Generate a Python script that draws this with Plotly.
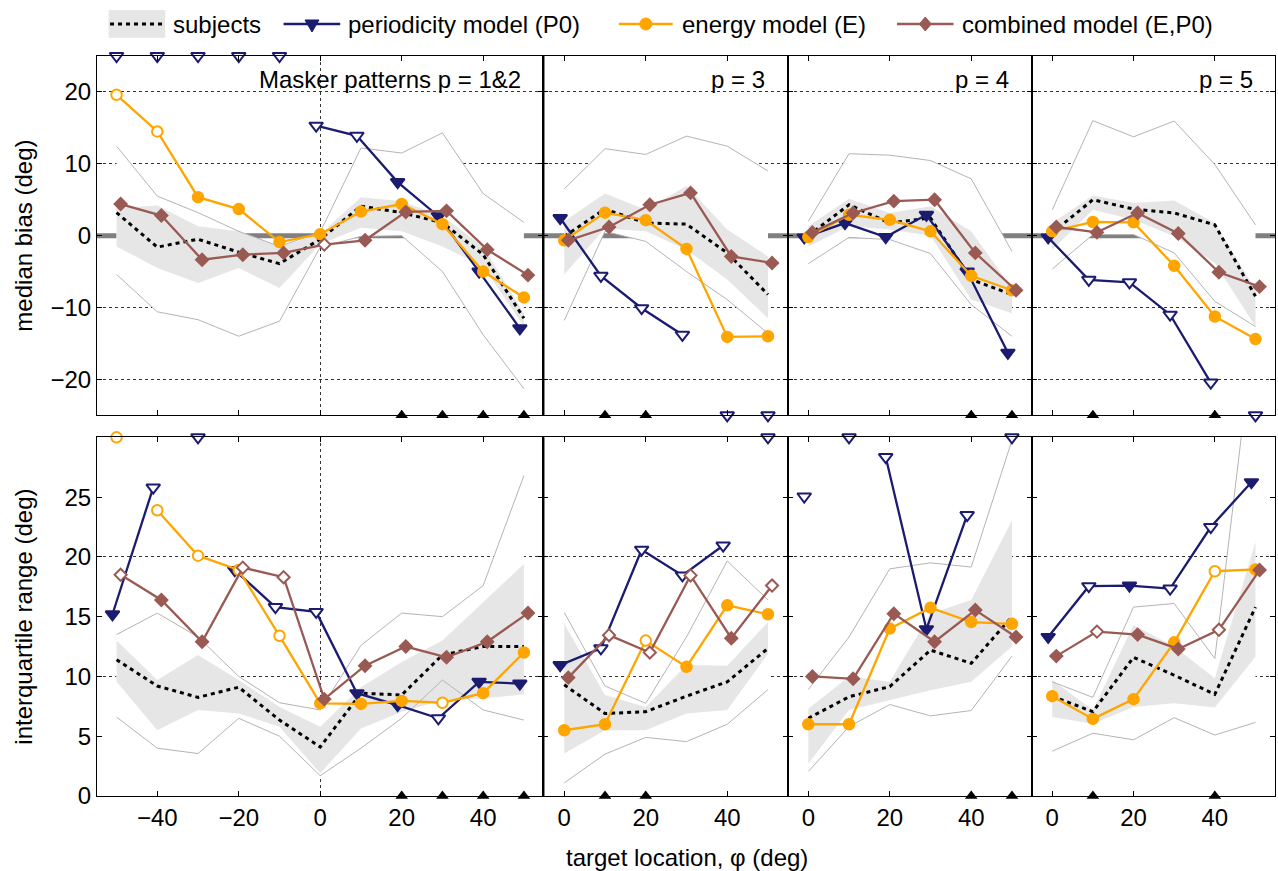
import plotly.graph_objects as go

# ---------------- data ----------------
X_P12 = [-50, -40, -30, -20, -10, 0, 10, 20, 30, 40, 50]
X_P = [0, 10, 20, 30, 40, 50]
PANEL_LABELS = ["Masker patterns p = 1&2", "p = 3", "p = 4", "p = 5"]
SIG_X = [[20, 30, 40, 50], [10, 20], [40, 50], [10, 40]]

# median bias (deg): subjects
BIAS_MED = [[3.2, -1.6, -0.5, -2.3, -3.9, -0.5, 4.1, 3.2, 1.8, -2.65, -11.5],
            [-0.1, 3.7, 1.75, 1.6, -2.4, -8.2],
            [0.0, 4.3, 1.75, 2.45, -6.1, -8.2],
            [0.4, 5.0, 3.7, 3.15, 1.5, -8.45]]
BIAS_Q3 = [[3.85, 4.2, 1.3, 0.6, -1.5, 0.2, 5.35, 4.8, 2.7, -1.5, -10.8],
           [2.0, 5.85, 3.6, 6.9, 0.85, -2.9],
           [1.3, 5.15, 3.15, 4.1, 0.6, -7.3],
           [1.75, 5.6, 4.55, 4.9, 1.75, -7.5]]
BIAS_Q1 = [[-1.5, -4.5, -6.6, -4.5, -7.3, -1.2, 1.1, 0.6, -1.5, -4.3, -12.6],
           [-5.4, 1.0, 0.6, -1.95, -6.1, -11.5],
           [-1.5, 1.3, 0.85, 0.0, -8.9, -10.8],
           [-1.95, 3.6, 2.2, -0.1, -3.8, -12.65]]
BIAS_MAX = [[12.45, 5.5, 3.2, 0.6, -1.5, 0.5, 12.2, 11.5, 14.3, 5.85, 1.85],
            [6.5, 12.1, 11.3, 13.85, 12.45, 9.0],
            [2.0, 11.4, 11.2, 10.45, 7.9, -2.2],
            [3.6, 16.0, 13.75, 15.95, 9.9, 1.5]]
BIAS_MIN = [[-5.4, -10.6, -11.7, -14.0, -11.9, -1.6, -0.1, 0.0, -5.0, -13.8, -21.3],
            [-11.8, 0.6, -0.8, -5.0, -8.9, -13.6],
            [-3.9, -0.25, -0.55, -2.5, -9.6, -14.0],
            [-4.65, 0.15, 0.15, -2.4, -9.15, -12.65]]
# median bias: models ("hi"/"lo" = off scale), open flags (1 = open marker)
BIAS_P0 = [["hi", "hi", "hi", "hi", "hi", 15.3, 13.9, 7.45, 2.7, -5.0, -12.9],
           [2.45, -5.6, -10.1, -13.8, "lo", "lo"],
           [-0.25, 1.75, -0.2, 2.9, -5.0, -16.3],
           [-0.25, -6.15, -6.5, -11.0, -20.45, "lo"]]
BIAS_P0_OPEN = [[1, 1, 1, 1, 1, 1, 1, 0, 0, 0, 0], [0, 1, 1, 1, 1, 1],
                [0, 0, 0, 0, 0, 0], [0, 1, 1, 1, 1, 1]]
BIAS_E = [[19.6, 14.5, 5.35, 3.7, -0.9, 0.2, 3.35, 4.4, 1.6, -5.0, -8.6],
          [-0.65, 3.2, 2.15, -1.85, -14.1, -14.0],
          [-0.2, 2.9, 2.2, 0.6, -5.6, -7.6],
          [0.6, 1.9, 1.85, -4.2, -11.25, -14.4]]
BIAS_E_OPEN = [[1, 1, 0, 0, 0, 0, 0, 0, 0, 0, 0], [0, 0, 0, 0, 0, 0],
               [0, 0, 0, 0, 0, 0], [0, 0, 0, 0, 0, 0]]
BIAS_C = [[4.4, 2.8, -3.35, -2.65, -2.4, -1.25, -0.65, 3.3, 3.45, -1.95, -5.5],
          [-0.65, 1.2, 4.3, 5.95, -2.9, -3.8],
          [0.45, 3.15, 4.8, 5.0, -2.4, -7.6],
          [1.2, 0.45, 3.15, 0.3, -5.1, -7.1]]
BIAS_C_OPEN = [[0, 0, 0, 0, 0, 1, 0, 0, 0, 0, 0], [0, 0, 0, 0, 0, 0],
               [0, 0, 0, 0, 0, 0], [0, 0, 0, 0, 0, 0]]

# interquartile range (deg): subjects
IQR_MED = [[11.4, 9.2, 8.25, 9.1, 6.35, 4.1, 8.6, 8.45, 11.8, 12.5, 12.5],
           [9.3, 6.9, 7.05, 8.35, 9.55, 12.35],
           [6.5, 8.3, 9.15, 12.2, 11.1, 15.0],
           [8.35, 7.05, 11.6, 10.1, 8.5, 15.8]]
IQR_Q3 = [[13.0, 9.7, 11.8, 9.7, 7.45, 5.8, 9.1, 11.2, 13.0, 16.2, 19.4],
          [14.4, 8.45, 7.45, 10.95, 10.9, 14.55],
          [7.3, 10.0, 9.55, 15.25, 16.4, 23.05],
          [9.7, 7.2, 14.3, 12.5, 9.85, 21.25]]
IQR_Q1 = [[9.55, 5.5, 7.2, 6.9, 5.8, 1.9, 5.65, 7.05, 8.0, 8.15, 8.5],
          [3.55, 5.5, 5.5, 6.9, 7.2, 11.9],
          [2.7, 7.2, 8.0, 8.85, 9.55, 12.5],
          [6.6, 6.05, 7.45, 7.75, 7.4, 11.65]]
IQR_MAX = [[13.5, 15.3, 13.3, 10.0, 7.8, 7.2, 12.6, 15.3, 15.0, 17.6, 26.8],
           [15.35, 9.2, 7.75, 13.3, 19.65, 16.4],
           [8.9, 13.3, 19.0, 19.5, 19.15, 29.75],
           [9.55, 8.25, 15.8, 16.1, 11.5, 40.0]]
IQR_MIN = [[6.6, 4.0, 3.55, 6.5, 5.0, 1.7, 4.0, 6.5, 9.7, 7.2, 6.35],
           [1.1, 3.5, 4.9, 4.55, 6.0, 8.9],
           [2.05, 5.8, 7.65, 6.7, 7.15, 11.7],
           [3.75, 5.25, 4.7, 6.55, 5.1, 6.15]]
# interquartile range: models
IQR_P0 = [[15.2, 25.8, "hi", 18.9, 15.8, 15.4, 8.6, 7.6, 6.5, 9.55, 9.4],
          [10.95, 12.35, 20.6, 18.45, 20.95, "hi"],
          [25.05, "hi", 28.35, 13.95, 23.5, "hi"],
          [13.3, 17.55, 17.6, 17.35, 22.5, 26.25]]
IQR_P0_OPEN = [[0, 1, 1, 0, 1, 1, 0, 0, 1, 0, 0], [0, 1, 1, 1, 1, 1],
               [1, 1, 1, 0, 1, 1], [0, 1, 0, 1, 1, 0]]
IQR_E = [["hi", 23.9, 20.1, 18.9, 13.4, 7.75, 7.7, 7.95, 7.8, 8.6, 12.0],
         [5.5, 6.0, 13.0, 10.8, 15.95, 15.2],
         [6.0, 6.0, 14.0, 15.75, 14.55, 14.4],
         [8.35, 6.45, 8.1, 12.85, 18.8, 18.95]]
IQR_E_OPEN = [[1, 1, 1, 1, 1, 0, 0, 0, 1, 0, 0], [0, 0, 1, 0, 0, 0],
              [0, 0, 0, 0, 0, 0], [0, 0, 0, 0, 1, 0]]
IQR_C = [[18.5, 16.4, 12.9, 19.1, 18.3, 8.1, 10.9, 12.5, 11.6, 12.9, 15.3],
         [9.9, 13.45, 12.0, 18.45, 13.2, 17.6],
         [10.0, 9.8, 15.25, 12.9, 15.55, 13.3],
         [11.7, 13.75, 13.5, 12.3, 13.9, 18.9]]
IQR_C_OPEN = [[1, 0, 0, 1, 1, 0, 0, 0, 0, 0, 0], [0, 1, 1, 1, 0, 1],
              [0, 0, 0, 0, 0, 0], [0, 1, 0, 0, 1, 0]]

# ---------------- style ----------------
NAVY = "#1b1b70"
ORANGE = "#ffa500"
BROWN = "#9a5a54"
BAND = "#e6e6e6"
THIN = "#b4b4b4"
GRID = "#333333"
FONT = "Liberation Sans, Arial, Helvetica, sans-serif"
FS = 24
LW = 2.3

W, H = 1278, 871
ML, MR, MT, MB = 97, 3, 56, 75
PW, PH = W - ML - MR, H - MT - MB

XD = [[0.0, 0.3790], [0.3790, 0.5862], [0.5862, 0.7933], [0.7933, 1.0]]
YD = [[0.5145, 1.0], [0.0, 0.4847]]
XR = [[-54.8, 54.8], [-5.1, 54.8], [-5.1, 54.8], [-5.1, 54.8]]
YR = [[-25, 25], [0, 30]]


def pxx(x):
    return (x - ML) / PW


def pyy(y):
    return (H - MB - y) / PH


fig = go.Figure()
layout = {}

rows = [
    dict(med=BIAS_MED, q1=BIAS_Q1, q3=BIAS_Q3, mn=BIAS_MIN, mx=BIAS_MAX,
         models=[(BIAS_P0, BIAS_P0_OPEN, NAVY, "triangle-down", 12, -1),
                 (BIAS_E, BIAS_E_OPEN, ORANGE, "circle", 10.5, 0),
                 (BIAS_C, BIAS_C_OPEN, BROWN, "diamond", 9.3, 1)]),
    dict(med=IQR_MED, q1=IQR_Q1, q3=IQR_Q3, mn=IQR_MIN, mx=IQR_MAX,
         models=[(IQR_P0, IQR_P0_OPEN, NAVY, "triangle-down", 12, -1),
                 (IQR_E, IQR_E_OPEN, ORANGE, "circle", 10.5, 0),
                 (IQR_C, IQR_C_OPEN, BROWN, "diamond", 9.3, 1)]),
]

shapes = []
annotations = []

for r in range(2):
    lo, hi = YR[r]
    for c in range(4):
        n = r * 4 + c + 1
        xa = "x" if n == 1 else f"x{n}"
        ya = "y" if n == 1 else f"y{n}"
        xs = X_P12 if c == 0 else X_P
        d = rows[r]
        mx, mn = d["mx"][c], d["mn"][c]
        q3, q1 = d["q3"][c], d["q1"][c]
        # white envelope between extreme subject curves
        fig.add_trace(go.Scatter(x=xs + xs[::-1], y=mx + mn[::-1], fill="toself",
                                 fillcolor="white", mode="lines", line=dict(width=0),
                                 xaxis=xa, yaxis=ya, hoverinfo="skip", showlegend=False))
        fig.add_trace(go.Scatter(x=xs + xs[::-1], y=q3 + q1[::-1], fill="toself",
                                 fillcolor=BAND, mode="lines", line=dict(width=0),
                                 xaxis=xa, yaxis=ya, hoverinfo="skip", showlegend=False))
        for curve in (mx, mn):
            fig.add_trace(go.Scatter(x=xs, y=curve, mode="lines",
                                     line=dict(color=THIN, width=1),
                                     xaxis=xa, yaxis=ya, hoverinfo="skip", showlegend=False))
        fig.add_trace(go.Scatter(x=xs, y=d["med"][c], mode="lines",
                                 line=dict(color="black", width=3, dash="4px,4px"),
                                 xaxis=xa, yaxis=ya, showlegend=False))
        for vals_all, open_all, color, sym, size, dx in d["models"]:
            vals, opens = vals_all[c], open_all[c]
            lx, ly, fc = [], [], []
            ox, oy = [], []
            for x, v, o in zip(xs, vals, opens):
                if isinstance(v, str):
                    lx.append(None)
                    ly.append(None)
                    fc.append("white")
                    ox.append(x)
                    oy.append(hi if v == "hi" else lo)
                else:
                    lx.append(x + dx)
                    ly.append(v)
                    fc.append("white" if o else color)
            fig.add_trace(go.Scatter(x=lx, y=ly, mode="lines+markers", connectgaps=False,
                                     line=dict(color=color, width=LW),
                                     marker=dict(symbol=sym, size=size, color=fc,
                                                 line=dict(color=color, width=2)),
                                     cliponaxis=False, xaxis=xa, yaxis=ya, showlegend=False))
            if ox:
                fig.add_trace(go.Scatter(x=ox, y=oy, mode="markers",
                                         marker=dict(symbol=sym, size=size, color="white",
                                                     line=dict(color=color, width=2)),
                                         cliponaxis=False, xaxis=xa, yaxis=ya, showlegend=False))
        sx = SIG_X[c]
        fig.add_trace(go.Scatter(x=sx, y=[lo] * len(sx), mode="markers",
                                 marker=dict(symbol="triangle-up", size=11, color="black"),
                                 cliponaxis=False, xaxis=xa, yaxis=ya, showlegend=False))

        # axes
        xkw = dict(domain=XD[c], range=XR[c], anchor=ya,
                   tickmode="array",
                   tickvals=[-40, -20, 0, 20, 40] if c == 0 else [0, 20, 40],
                   showticklabels=(r == 1), ticks="inside", ticklen=5, tickcolor="black",
                   showline=True, linecolor="black", linewidth=1, mirror="ticks",
                   showgrid=False, zeroline=False,
                   tickfont=dict(family=FONT, size=FS, color="black"))
        if c == 0:
            xkw["minor"] = dict(tickmode="array", tickvals=[0], showgrid=True,
                                griddash="3px,3px", gridcolor=GRID, gridwidth=1, ticks="")
        ykw = dict(domain=YD[r], range=YR[r], anchor=xa,
                   showticklabels=(c == 0), ticks="inside", ticklen=5, tickcolor="black",
                   showline=True, linecolor="black", linewidth=1, mirror="ticks",
                   zeroline=False, tickmode="array", showgrid=False,
                   tickfont=dict(family=FONT, size=FS, color="black"))
        if r == 0:
            ykw.update(tickvals=[-20, -10, 0, 10, 20],
                       minor=dict(tickmode="array", tickvals=[-20, -10, 10, 20], showgrid=True,
                                  griddash="3px,3px", gridcolor=GRID, gridwidth=1, ticks=""))
        else:
            ykw.update(tickvals=[0, 5, 10, 15, 20, 25],
                       minor=dict(tickmode="array", tickvals=[10, 20], showgrid=True,
                                  griddash="3px,3px", gridcolor=GRID, gridwidth=1, ticks=""))
        layout["xaxis" if n == 1 else f"xaxis{n}"] = xkw
        layout["yaxis" if n == 1 else f"yaxis{n}"] = ykw

        if r == 0:
            shapes.append(dict(type="line", xref=f"{xa} domain", yref=ya, x0=0, x1=1,
                               y0=0, y1=0, line=dict(color="#808080", width=5),
                               layer="below"))

# heavier border between the first and second columns
for r in range(2):
    shapes.append(dict(type="line", xref="paper", yref="paper", x0=XD[0][1], x1=XD[0][1],
                       y0=YD[r][0], y1=YD[r][1], line=dict(color="black", width=2)))

# panel labels
label_right = [522.7, 766.7, 1010.7, 1254.7]
for c in range(4):
    annotations.append(dict(text=PANEL_LABELS[c], xref="paper", yref="paper",
                            x=pxx(label_right[c]), y=pyy(79), xanchor="right",
                            yanchor="middle", showarrow=False,
                            font=dict(family=FONT, size=FS, color="black")))

# axis titles
annotations.append(dict(text="median bias (deg)", xref="paper", yref="paper",
                        x=pxx(24), y=(YD[0][0] + YD[0][1]) / 2, textangle=-90,
                        xanchor="center", yanchor="middle", showarrow=False,
                        font=dict(family=FONT, size=FS, color="black")))
annotations.append(dict(text="interquartile range (deg)", xref="paper", yref="paper",
                        x=pxx(24), y=(YD[1][0] + YD[1][1]) / 2, textangle=-90,
                        xanchor="center", yanchor="middle", showarrow=False,
                        font=dict(family=FONT, size=FS, color="black")))
annotations.append(dict(text="target location, φ (deg)", xref="paper", yref="paper",
                        x=pxx(687), y=pyy(857), xanchor="center", yanchor="middle",
                        showarrow=False, font=dict(family=FONT, size=FS, color="black")))

# manual legend
LY = 24
shapes.append(dict(type="rect", xref="paper", yref="paper", x0=pxx(108.6), x1=pxx(165.2),
                   y0=pyy(37.7), y1=pyy(10), fillcolor=BAND, line=dict(width=0)))
shapes.append(dict(type="line", xref="paper", yref="paper", x0=pxx(110), x1=pxx(164),
                   y0=pyy(LY), y1=pyy(LY), line=dict(color="black", width=3, dash="4px,4px")))
for (x0, x1, color) in [(283.6, 340.2, NAVY), (618.9, 672.7, ORANGE), (897.0, 953.5, BROWN)]:
    shapes.append(dict(type="line", xref="paper", yref="paper", x0=pxx(x0), x1=pxx(x1),
                       y0=pyy(LY), y1=pyy(LY), line=dict(color=color, width=LW)))
tx, ty = 312.0, LY
tri = "M{:.5f},{:.5f} L{:.5f},{:.5f} L{:.5f},{:.5f} Z".format(
    pxx(tx - 7), pyy(ty - 4), pxx(tx + 7), pyy(ty - 4), pxx(tx), pyy(ty + 8))
shapes.append(dict(type="path", xref="paper", yref="paper", path=tri,
                   fillcolor=NAVY, line=dict(color=NAVY, width=1)))
cx = 645.8
shapes.append(dict(type="circle", xref="paper", yref="paper", x0=pxx(cx - 6), x1=pxx(cx + 6),
                   y0=pyy(LY + 6), y1=pyy(LY - 6), fillcolor=ORANGE,
                   line=dict(color=ORANGE, width=1)))
dxc = 925.3
dia = "M{:.5f},{:.5f} L{:.5f},{:.5f} L{:.5f},{:.5f} L{:.5f},{:.5f} Z".format(
    pxx(dxc), pyy(LY - 7), pxx(dxc + 6), pyy(LY), pxx(dxc), pyy(LY + 7), pxx(dxc - 6), pyy(LY))
shapes.append(dict(type="path", xref="paper", yref="paper", path=dia,
                   fillcolor=BROWN, line=dict(color=BROWN, width=1)))
for text, x in [("subjects", 171.3), ("periodicity model (P0)", 346.3),
                ("energy model (E)", 679.6), ("combined model (E,P0)", 960.0)]:
    annotations.append(dict(text=text, xref="paper", yref="paper", x=pxx(x), y=pyy(LY),
                            xanchor="left", yanchor="middle", showarrow=False,
                            font=dict(family=FONT, size=FS, color="black")))

fig.update_layout(width=W, height=H, margin=dict(l=ML, r=MR, t=MT, b=MB),
                  paper_bgcolor="white", plot_bgcolor="white", showlegend=False,
                  shapes=shapes, annotations=annotations,
                  font=dict(family=FONT, size=FS, color="black"), **layout)

fig.write_html("out.html")
